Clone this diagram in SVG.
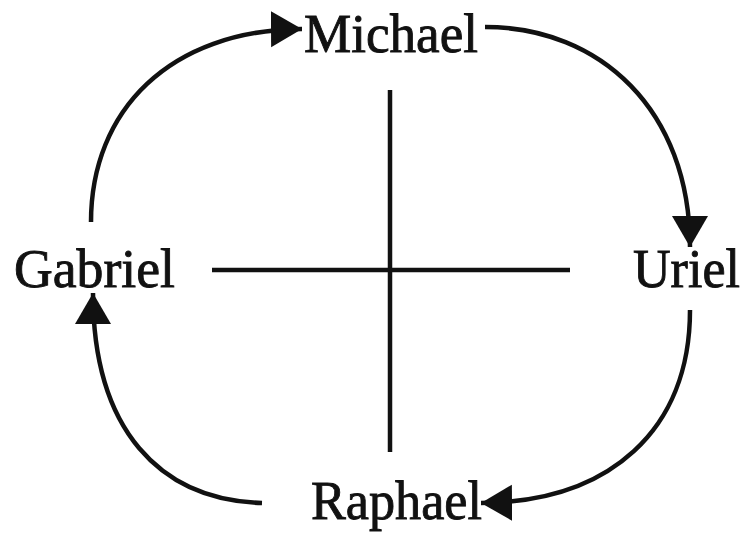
<svg xmlns="http://www.w3.org/2000/svg" width="750" height="535" viewBox="0 0 750 535">
<style>
.lbl{font-family:"Liberation Serif","Times New Roman",serif;font-size:55px;fill:#111;stroke:#111;stroke-width:0.9;}
.ln{stroke:#111;stroke-width:4.5;fill:none;}
</style>
<defs>
<marker id="ah" markerUnits="userSpaceOnUse" markerWidth="34" markerHeight="38" refX="31" refY="18" orient="auto" viewBox="0 0 34 38">
<path d="M0 0 L31 18 L0 36 Z" fill="#111"/>
</marker>
</defs>
<rect width="750" height="535" fill="#fff"/>
<g id="connectors">
<path class="ln" d="M91 222 C91 110 170 30 302 29" marker-end="url(#ah)"/>
<path class="ln" d="M485 27 C600 27 690 110 690 247" marker-end="url(#ah)"/>
<path class="ln" d="M690 310 C690 430 610 502 481 503" marker-end="url(#ah)"/>
<path class="ln" d="M262 503 C160 500 93 430 93 293" marker-end="url(#ah)"/>
<line class="ln" x1="390" y1="90" x2="390" y2="452"/>
<line class="ln" x1="212" y1="270" x2="570" y2="270"/>
</g>
<g id="michael"><text class="lbl" x="304" y="52" textLength="174" lengthAdjust="spacingAndGlyphs">Michael</text></g>
<g id="uriel"><text class="lbl" x="633" y="287" textLength="107" lengthAdjust="spacingAndGlyphs">Uriel</text></g>
<g id="raphael"><text class="lbl" x="311" y="519" textLength="171" lengthAdjust="spacingAndGlyphs">Raphael</text></g>
<g id="gabriel"><text class="lbl" x="14" y="287" textLength="161" lengthAdjust="spacingAndGlyphs">Gabriel</text></g>
</svg>
